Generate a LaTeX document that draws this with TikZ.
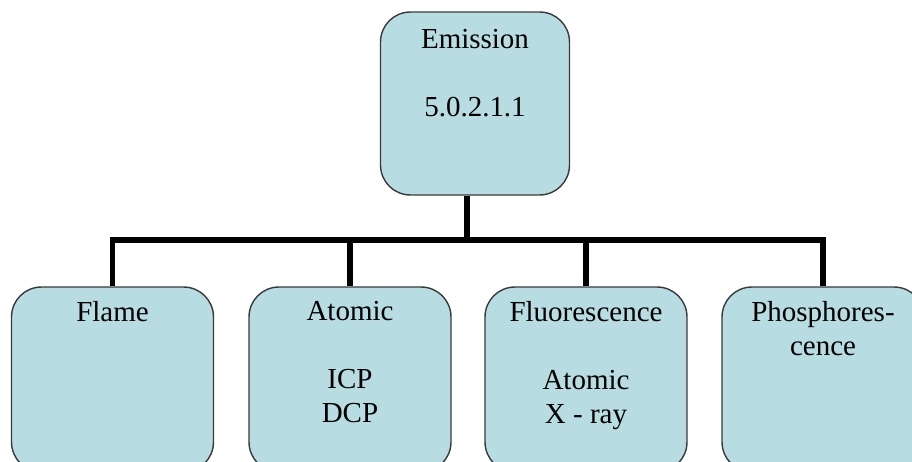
\documentclass[tikz,border=0pt]{standalone}
\usepackage{fontspec}
\setmainfont{Liberation Serif}
\usetikzlibrary{positioning}
\definecolor{boxfill}{HTML}{B7DCE1}
\definecolor{boxline}{HTML}{3A3A3A}

\begin{document}
\begin{tikzpicture}[x=0.02cm, y=-0.02cm,
  topbox/.style={draw=boxline, fill=boxfill, line width=0.8pt, rounded corners=17pt, minimum width=3.78cm, minimum height=3.66cm},
  subbox/.style={draw=boxline, fill=boxfill, line width=0.8pt, rounded corners=17pt, minimum width=4.04cm, minimum height=3.7cm},
  boxtext/.style={inner sep=0pt, align=center, font=\fontsize{16.5}{19.3}\selectfont},
  link/.style={line width=3.4pt, black}]

\useasboundingbox (0,0) rectangle (912,462);
\clip (0,0) rectangle (912,462);

\node (emission) [topbox] at (475,103.5) {};
\node (emission-t) [boxtext, below=10pt of emission.north] {Emission\\[19.3pt]5.0.2.1.1};

\node (flame) [subbox] at (112.5,379.5) {};
\node (atomic) [subbox] at (350,379.5) {};
\node (fluor) [subbox] at (586,379.5) {};
\node (phos) [subbox] at (823,379.5) {};

\node (flame-t) [boxtext, below=8.5pt of flame.north] {Flame};
\node (atomic-t) [boxtext, below=8.5pt of atomic.north] {Atomic\\[19.3pt]ICP\\DCP};
\node (fluor-t) [boxtext, below=8.5pt of fluor.north] {Fluorescence\\[19.3pt]Atomic\\X - ray};
\node (phos-t) [boxtext, below=8.5pt of phos.north] {Phosphores-\\cence};

\coordinate (bus) at (467,240);
\draw[link] (emission.south -| bus) -- (bus);
\draw[link] (flame.north) |- (bus) -| (phos.north);
\draw[link] (atomic.north) -- (atomic.north |- bus);
\draw[link] (fluor.north) -- (fluor.north |- bus);

\end{tikzpicture}
\end{document}
